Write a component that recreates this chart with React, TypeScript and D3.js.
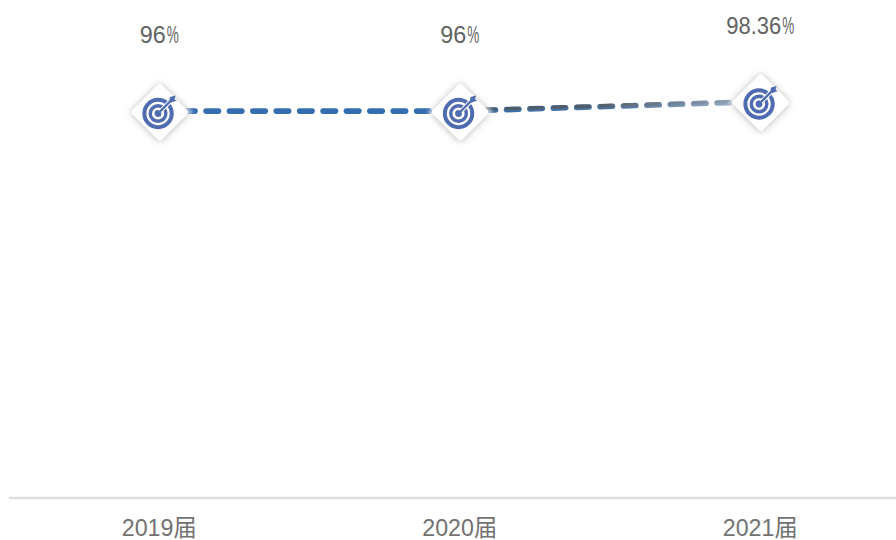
import React from "react";
import * as d3 from "d3";

const categories = ["2019届", "2020届", "2021届"];
const values = [96, 96, 98.36];
const valueNumbers = ["96", "96", "98.36"];
const valueNumberWidths = [26, 26, 55];

const W = 896;
const H = 540;
const FONT = "'Liberation Sans', 'Noto Sans CJK SC', sans-serif";

const x = d3.scaleBand<string>().domain(categories).range([9, 910.5]);
const y = d3.scaleLinear().domain([0, 100]).range([498, 95]);
const cx = (c: string) => (x(c) as number) + x.bandwidth() / 2;
const lineGen = d3.line<number>().x((_, i) => cx(categories[i])).y((v) => y(v));

function Marker({ px, py }: { px: number; py: number }) {
  const blue = "#4f6cb0";
  return (
    <g transform={`translate(${px},${py})`}>
      <path d="M0,-33 L33,0 L0,33 L-33,0 Z" fill="#ffffff" opacity={0.6} filter="url(#halo)" />
      <path
        d="M0,-25 L25,0 L0,25 L-25,0 Z"
        fill="#fff"
        stroke="#fff"
        strokeWidth={6}
        strokeLinejoin="round"
        filter="url(#shadow)"
      />
      <g transform="translate(-1.8,1.4)" fill="none" stroke={blue}>
        <circle r={13.7} strokeWidth={4} />
        <circle r={7.8} strokeWidth={3.4} />
        <circle r={3.4} fill={blue} stroke="none" />
        <line x1={2} y1={-2} x2={13} y2={-13} stroke="#fff" strokeWidth={4.2} />
        <line x1={0} y1={0} x2={13} y2={-13} strokeWidth={2.4} />
        <path d="M11,-11 L12,-16.5 L17.5,-18 L16.5,-14 L19,-13 L13,-11 Z" fill={blue} stroke="none" />
      </g>
    </g>
  );
}

export default function App() {
  const x1 = cx(categories[1]);
  const x2 = cx(categories[2]);
  const segA = lineGen([values[0], values[1]]) as string;
  const p = (i: number, dy = 0) => `${cx(categories[i])},${y(values[i]) + dy}`;
  const segB = `M${p(1)}L${p(2)}`;
  const segBTop = `M${p(1, -1)}L${p(2, -1)}`;
  const dash = "12.4 11";
  return (
    <svg
      width={W}
      height={H}
      viewBox={`0 0 ${W} ${H}`}
      style={{ position: "absolute", left: 0, top: 0, display: "block", background: "#fff" }}
    >
      <defs>
        <filter id="shadow" x="-40%" y="-40%" width="180%" height="180%">
          <feDropShadow dx={0} dy={0.5} stdDeviation={3.6} floodColor="#000" floodOpacity={0.3} />
        </filter>
        <filter id="halo" x="-30%" y="-30%" width="160%" height="160%">
          <feGaussianBlur stdDeviation={1.5} />
        </filter>
        <linearGradient id="segBase" gradientUnits="userSpaceOnUse" x1={x1} y1={0} x2={x2} y2={0}>
          <stop offset="0" stopColor="#3a6fb0" />
          <stop offset="0.5" stopColor="#4c6f98" />
          <stop offset="1" stopColor="#a9bccf" />
        </linearGradient>
        <linearGradient id="segTop" gradientUnits="userSpaceOnUse" x1={x1} y1={0} x2={x2} y2={0}>
          <stop offset="0" stopColor="#4a5a6e" />
          <stop offset="0.45" stopColor="#535c66" />
          <stop offset="0.75" stopColor="#76889a" />
          <stop offset="1" stopColor="#9db1c6" />
        </linearGradient>
      </defs>

      <line x1={9} x2={W} y1={498} y2={498} stroke="#dedede" strokeWidth={2.5} />

      <path d={segA} fill="none" stroke="#356db0" strokeWidth={5.6} strokeDasharray={dash} strokeLinecap="round" />
      <path d={segB} fill="none" stroke="url(#segBase)" strokeWidth={5.6} strokeDasharray={dash} strokeLinecap="round" />
      <path d={segBTop} fill="none" stroke="url(#segTop)" strokeWidth={3.2} strokeDasharray={dash} strokeLinecap="round" />

      {values.map((v, i) => (
        <Marker key={i} px={cx(categories[i]) + 0.6} py={y(v) + 1} />
      ))}

      {values.map((v, i) => (
        <text key={i} x={cx(categories[i])} y={y(v) - 68} textAnchor="middle" fontFamily={FONT} fontSize={24} fill="#636363">
          <tspan textLength={valueNumberWidths[i]} lengthAdjust="spacingAndGlyphs">{valueNumbers[i]}</tspan>
          <tspan dx={1} textLength={12} lengthAdjust="spacingAndGlyphs">%</tspan>
        </text>
      ))}

      {categories.map((c) => (
        <text key={c} x={cx(c)} y={536} textAnchor="middle" fontFamily={FONT} fontSize={24} fill="#727272" textLength={75} lengthAdjust="spacingAndGlyphs">
          {c}
        </text>
      ))}
    </svg>
  );
}
